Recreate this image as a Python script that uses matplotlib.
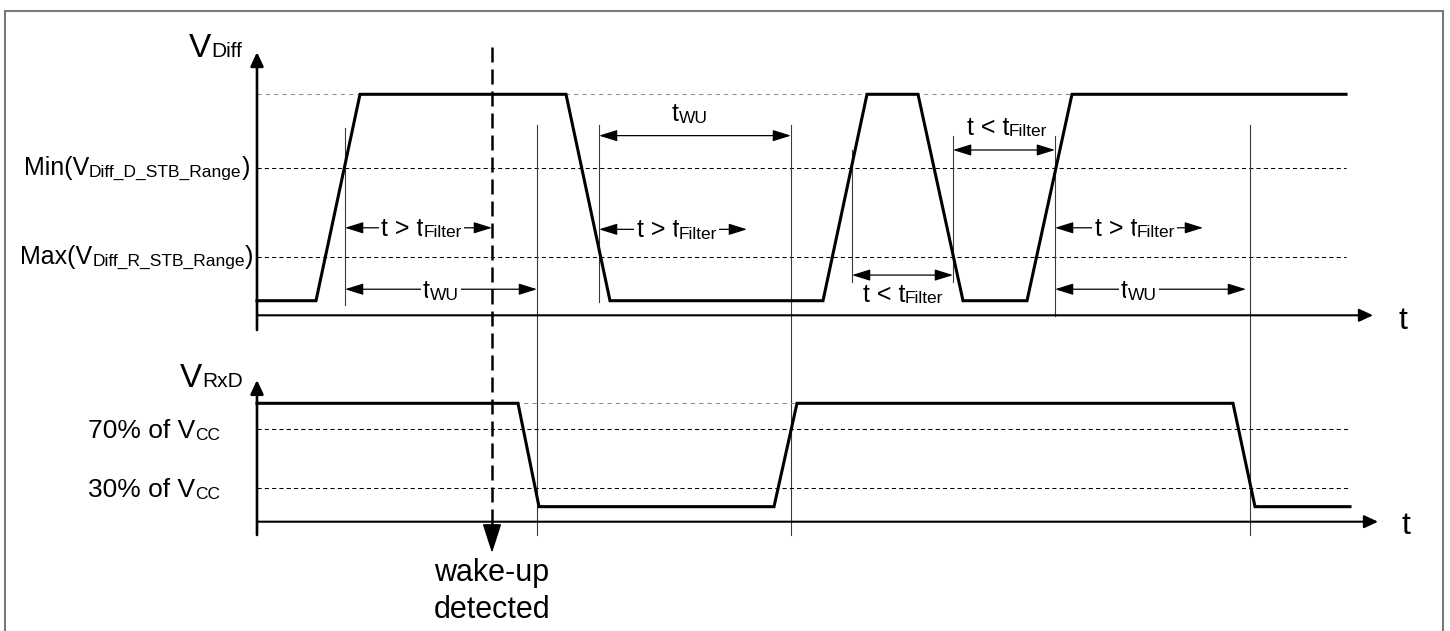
import matplotlib
matplotlib.use('Agg')
import matplotlib.pyplot as plt
from matplotlib.transforms import offset_copy
from matplotlib.lines import Line2D

plt.rcParams['font.family'] = ['Liberation Sans', 'DejaVu Sans']

# ---------------- data ----------------
# V_Diff panel (levels normalised so that the dominant level = 1)
VD_HIGH, VD_MIN_D, VD_MAX_R, VD_LOW = 1.0, 0.665, 0.265, 0.066
vdiff_t = [0, 59, 103, 309, 353, 566, 610, 661, 706, 770, 815, 1089]
vdiff_v = [VD_LOW, VD_LOW, VD_HIGH, VD_HIGH, VD_LOW, VD_LOW,
           VD_HIGH, VD_HIGH, VD_LOW, VD_LOW, VD_HIGH, VD_HIGH]

# V_RxD panel (levels normalised so that high = 1)
RX_HIGH, RX_70, RX_30, RX_LOW = 1.0, 0.780, 0.282, 0.127
rxd_t = [0, 261, 282, 517, 540, 976, 998, 1093]
rxd_v = [RX_HIGH, RX_HIGH, RX_LOW, RX_LOW, RX_HIGH, RX_HIGH, RX_LOW, RX_LOW]

# thin vertical timing markers (in V_Diff panel units)
marker_t = [88, 280, 342, 534, 595, 696, 798, 993]
marker_top = [0.848, 0.861, 0.861, 0.861, 0.748, 0.811, 0.811, 0.861]
marker_bot = [0.047, -0.994, 0.060, -0.994, 0.151, 0.151, -0.003, -0.994]

# timing arrows
arrow_t0 = [88, 88, 342, 342, 595, 696, 798, 798]
arrow_t1 = [235, 280, 534, 490, 696, 798, 946, 989]
arrow_lvl = [0.396, 0.118, 0.813, 0.389, 0.182, 0.748, 0.396, 0.118]
arrow_kind = ['gt', 'wu', 'wu', 'gt', 'lt', 'lt', 'gt', 'wu']
label_t = [164.7, 184, 433, 420, 646, 750, 878, 882]
label_lvl = [0.360, 0.077, 0.879, 0.353, 0.0615, 0.816, 0.360, 0.077]
label_inline = [True, True, False, True, False, False, True, True]

WAKE_T = 235
T_END_TOP, T_END_BOT = 1116, 1121

# ---------------- figure ----------------
W, H, DPI = 1450, 631, 100
fig = plt.figure(figsize=(W / DPI, H / DPI), dpi=DPI, facecolor='white')
ax_top = fig.add_axes([0, 0, 1, 1])
ax_bot = fig.add_axes([0, 0, 1, 1])
for ax in (ax_top, ax_bot):
    ax.set_axis_off()
    ax.patch.set_visible(False)
    ax.set_xlim(-257, 1193)
ax_top.set_ylim(-1.4285, 1.4267)
ax_bot.set_ylim(-0.9231, 4.4062)

renderer = fig.canvas.get_renderer()

MAIN, SUB = 18, 12.5


def rich(ax, x, y, parts, ha='left', drop=1.5, bg=False):
    widths = []
    for s, size, sub in parts:
        t = ax.text(0, 0, s, fontsize=size)
        widths.append(t.get_window_extent(renderer).width)
        t.remove()
    total = sum(widths)
    dx = {'left': 0, 'center': -total / 2, 'right': -total}[ha]
    for (s, size, sub), w in zip(parts, widths):
        tr = offset_copy(ax.transData, fig=fig, x=dx,
                         y=(-drop if sub else 0), units='dots')
        kw = {}
        if bg:
            kw['bbox'] = dict(boxstyle='square,pad=0.1', fc='white', ec='none')
        ax.text(x, y, s, fontsize=size, ha='left', va='baseline',
                transform=tr, zorder=5, **kw)
        dx += w


def harrow(ax, t0, t1, lvl):
    ax.annotate('', xy=(t1, lvl), xytext=(t0, lvl),
                arrowprops=dict(arrowstyle='<|-|>,head_length=0.8,head_width=0.25',
                                mutation_scale=14, lw=0.9, color='black',
                                shrinkA=0, shrinkB=0), zorder=3)


def axis_arrow(ax, xy, xytext, lw):
    ax.annotate('', xy=xy, xytext=xytext,
                arrowprops=dict(arrowstyle='-|>,head_length=0.6,head_width=0.28',
                                mutation_scale=14, lw=lw, color='black',
                                shrinkA=0, shrinkB=0), zorder=4)


# ----- threshold dashed lines -----
DASH_K = dict(color='black', lw=0.75, dashes=(4, 3), zorder=1)
DASH_G = dict(color='#8a8a8a', lw=0.75, dashes=(4, 4), zorder=1)
ax_top.plot([0, vdiff_t[-1]], [VD_HIGH, VD_HIGH], **DASH_G)
ax_top.plot([0, vdiff_t[-1]], [VD_MIN_D, VD_MIN_D], **DASH_K)
ax_top.plot([0, vdiff_t[-1]], [VD_MAX_R, VD_MAX_R], **DASH_K)
ax_bot.plot([0, rxd_t[5]], [RX_HIGH, RX_HIGH], **DASH_G)
ax_bot.plot([0, rxd_t[-1]], [RX_70, RX_70], **DASH_K)
ax_bot.plot([0, rxd_t[-1]], [RX_30, RX_30], **DASH_K)

# ----- markers -----
for t, a, b in zip(marker_t, marker_top, marker_bot):
    ax_top.plot([t, t], [b, a], color='#3a3a3a', lw=0.8, zorder=2)

# ----- waveforms -----
ax_top.plot(vdiff_t, vdiff_v, color='black', lw=2.2, solid_joinstyle='miter', zorder=3)
ax_bot.plot(rxd_t, rxd_v, color='black', lw=2.2, solid_joinstyle='miter', zorder=3)

# ----- axes with arrows -----
axis_arrow(ax_top, (0, 1.191), (0, -0.0665), 1.9)
axis_arrow(ax_top, (T_END_TOP, 0), (0, 0), 1.5)
axis_arrow(ax_bot, (0, 1.197), (0, -0.112), 1.9)
axis_arrow(ax_bot, (T_END_BOT, 0), (0, 0), 1.5)

# ----- timing arrows + labels -----
for t0, t1, lv, kind, lt, ll, inl in zip(arrow_t0, arrow_t1, arrow_lvl, arrow_kind,
                                         label_t, label_lvl, label_inline):
    harrow(ax_top, t0, t1, lv)
    if kind == 'wu':
        parts = [('t', MAIN, False), ('WU', SUB, True)]
    elif kind == 'gt':
        parts = [('t > t', MAIN, False), ('Filter', SUB, True)]
    else:
        parts = [('t < t', MAIN, False), ('Filter', SUB, True)]
    rich(ax_top, lt, ll, parts, ha='center', bg=inl)

# ----- wake-up detected line -----
ax_bot.plot([WAKE_T, WAKE_T], [4.009, -0.04], color='black', lw=1.8,
            dashes=(6, 2.8), zorder=4)
ax_bot.annotate('', xy=(WAKE_T, -0.264), xytext=(WAKE_T, -0.03),
                arrowprops=dict(arrowstyle='-|>,head_length=1.3,head_width=0.42',
                                mutation_scale=14, lw=1.2, color='black',
                                shrinkA=0, shrinkB=0), zorder=4)
ax_bot.text(WAKE_T, -0.498, 'wake-up', fontsize=22, ha='center', va='baseline')
ax_bot.text(WAKE_T, -0.816, 'detected', fontsize=22, ha='center', va='baseline')

# ----- axis labels -----
rich(ax_top, -15, 1.169, [('V', 24, False), ('Diff', 15, True)], ha='right', drop=0.5)
rich(ax_top, -7, 0.635, [('Min(V', MAIN, False), ('Diff_D_STB_Range', SUB, True),
                         (')', MAIN, False)], ha='right')
rich(ax_top, -4, 0.232, [('Max(V', MAIN, False), ('Diff_R_STB_Range', SUB, True),
                         (')', MAIN, False)], ha='right')
ax_top.text(1146, -0.062, 't', fontsize=23, ha='center', va='baseline')

rich(ax_bot, -14, 1.138, [('V', 24, False), ('RxD', 15, True)], ha='right', drop=0.5)
rich(ax_bot, -37, 0.704, [('70% of V', 19, False), ('CC', SUB, True)], ha='right')
rich(ax_bot, -37, 0.206, [('30% of V', 19, False), ('CC', SUB, True)], ha='right')
ax_bot.text(1149, -0.104, 't', fontsize=23, ha='center', va='baseline')

# ----- outer frame -----
fx0, fx1, fy1 = 5 / W, 1442.7 / W, 1 - 11 / H
for xs, ys in (([fx0, fx0], [-0.01, fy1]), ([fx0, fx1], [fy1, fy1]), ([fx1, fx1], [fy1, -0.01])):
    fig.add_artist(Line2D(xs, ys, color='#7a7a7a', lw=1.5, transform=fig.transFigure))

fig.savefig('out.png', dpi=DPI, facecolor='white')
